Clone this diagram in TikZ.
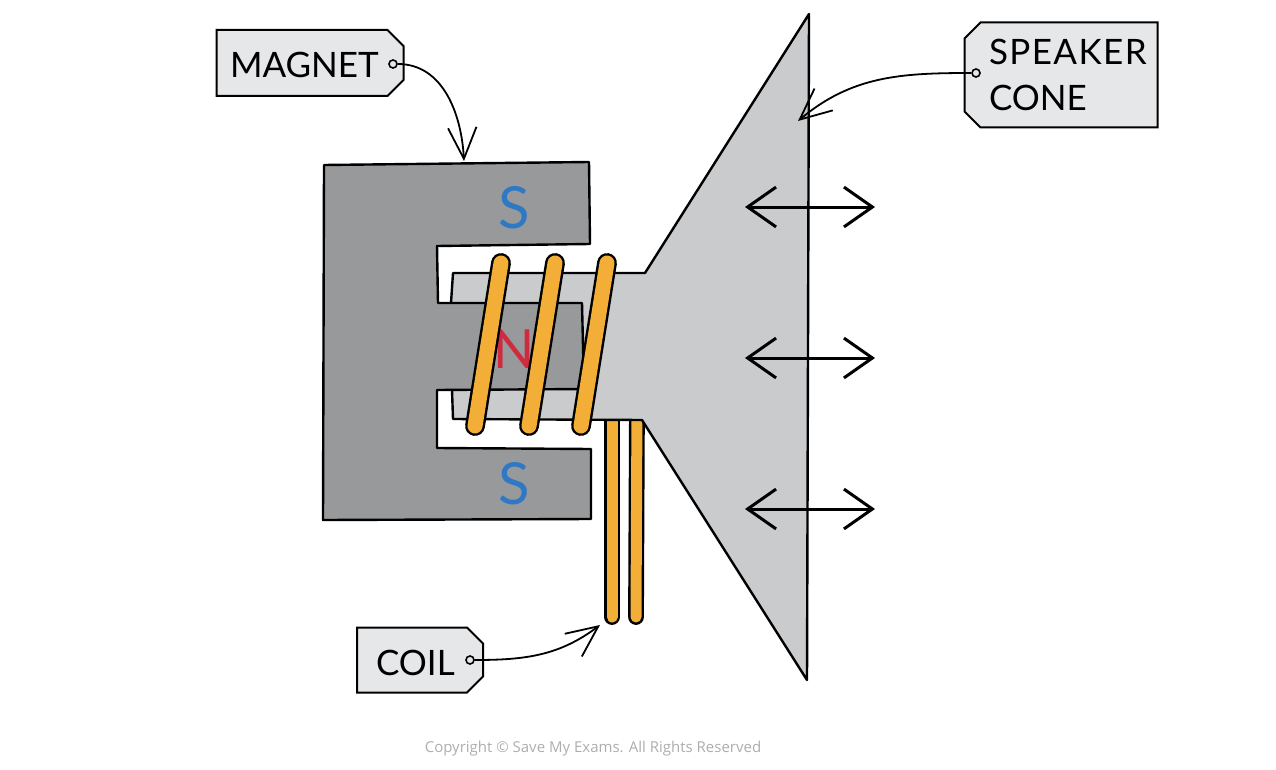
\documentclass[tikz,border=0pt]{standalone}
\usepackage{fontspec}
\setmainfont{Lato}
\newfontfamily\copyfont{Open Sans}
\usepackage{xcolor}
\usetikzlibrary{arrows.meta,shapes.misc}
\definecolor{magnet2}{HTML}{97999B}
\definecolor{cone2}{HTML}{CACBCC}
\definecolor{tag2}{HTML}{E6E7E8}
\definecolor{coil2}{HTML}{F2AE37}
\definecolor{blue2}{HTML}{2F78C4}
\definecolor{red2}{HTML}{CF2A3D}

\begin{document}
\begin{tikzpicture}[
    x=1pt,y=-1pt,
    every node/.style={font=\fontsize{35}{46}\selectfont},
    part/.style={draw,line width=2.4pt,line join=round},
    turn/.style={line width=2.4pt,line cap=round,double=coil2,double distance=15pt},
    tail/.style={line width=2.4pt,line cap=round,double=coil2,double distance=11pt},
    tagbox/.style={draw,line width=2pt,fill=tag2,chamfered rectangle,
                   chamfered rectangle xsep=8pt,chamfered rectangle ysep=8pt,
                   align=left,inner sep=0pt},
    hole/.style={circle,draw,line width=1.6pt,fill=tag2,minimum size=8pt,inner sep=0pt},
    pole/.style={font=\fontsize{58}{58}\selectfont},
    lead/.style={-{Straight Barb[length=11mm,width=10mm,line width=1.8pt]},line width=1.8pt},
    move/.style={{Straight Barb[length=10mm,width=14mm]}-{Straight Barb[length=10mm,width=14mm]},line width=3pt},
  ]
    \useasboundingbox (0,0) rectangle (1276,770);

    % coil ends
    \draw[tail] (612,400) -- (612,617);
    \draw[tail] (637,400) -- (636,617);

    % cone and former
    \draw[part,fill=cone2] (809,14) -- (645,273) -- (453,273) -- (451,303) -- (452,390)
      -- (453,419) -- (642,420) -- (807,680) -- cycle;

    % magnet
    \draw[part,fill=magnet2] (324,165) -- (589,162) -- (590,244) -- (437,246) -- (438,303)
      -- (582,303) -- (584,389) -- (437,390) -- (437,448) -- (591,449) -- (591,519) -- (323,520) -- cycle;
    \node[pole,text=blue2] (sTop) at (514,208) {S};
    \node[pole,text=red2,font=\fontsize{54}{54}\selectfont] (nMid) at (514,349) {N};
    \node[pole,text=blue2] (sBot) at (514,484) {S};

    % coil turns
    \draw[turn] (501,263) -- (475,426);
    \draw[turn] (555,263) -- (529,426);
    \draw[turn] (607,263) -- (581,426);

    % movement arrows
    \foreach \y/\name in {207/moveA,358/moveB,509/moveC}{
      \coordinate (\name L) at (745,\y);
      \coordinate (\name R) at (875,\y);
      \draw[move] (\name L) -- (\name R);
    }

    % labels
    \node[tagbox,chamfered rectangle corners={north east,south east},minimum width=187pt,minimum height=66pt,
          text width=160pt,text height=30pt,text depth=0pt] (magnetTag) at (310,63) {MAGNET};
    \node[tagbox,chamfered rectangle corners={north west,south west},minimum width=193pt,minimum height=105pt,
          text width=176pt] (coneTag) at (1061,75) {\hspace*{16pt}{\addfontfeatures{LetterSpace=4}SPEAKER}\\\hspace*{16pt}CONE};
    \node[tagbox,chamfered rectangle corners={north east,south east},minimum width=126pt,minimum height=65pt,
          text width=88pt,text height=30pt,text depth=0pt] (coilTag) at (420,660) {COIL};
    \node[hole] (magnetHole) at (393,64) {};
    \node[hole] (coneHole) at (976,73) {};
    \node[hole] (coilHole) at (470,660) {};
    \coordinate (magnetEnd) at (464,161);
    \coordinate (coneEnd) at (798,121);
    \coordinate (coilEnd) at (600,625);
    \draw[lead] (magnetHole) to[out=0,in=93] (magnetEnd);
    \draw[lead] (coneHole) to[out=180,in=40] (coneEnd);
    \draw[lead] (coilHole) to[out=0,in=217] (coilEnd);

    \node[font=\copyfont\fontsize{15}{18}\selectfont,text=black!32] (copy) at (593,749)
      {Copyright © Save My Exams. All Rights Reserved};
  \end{tikzpicture}
\end{document}
